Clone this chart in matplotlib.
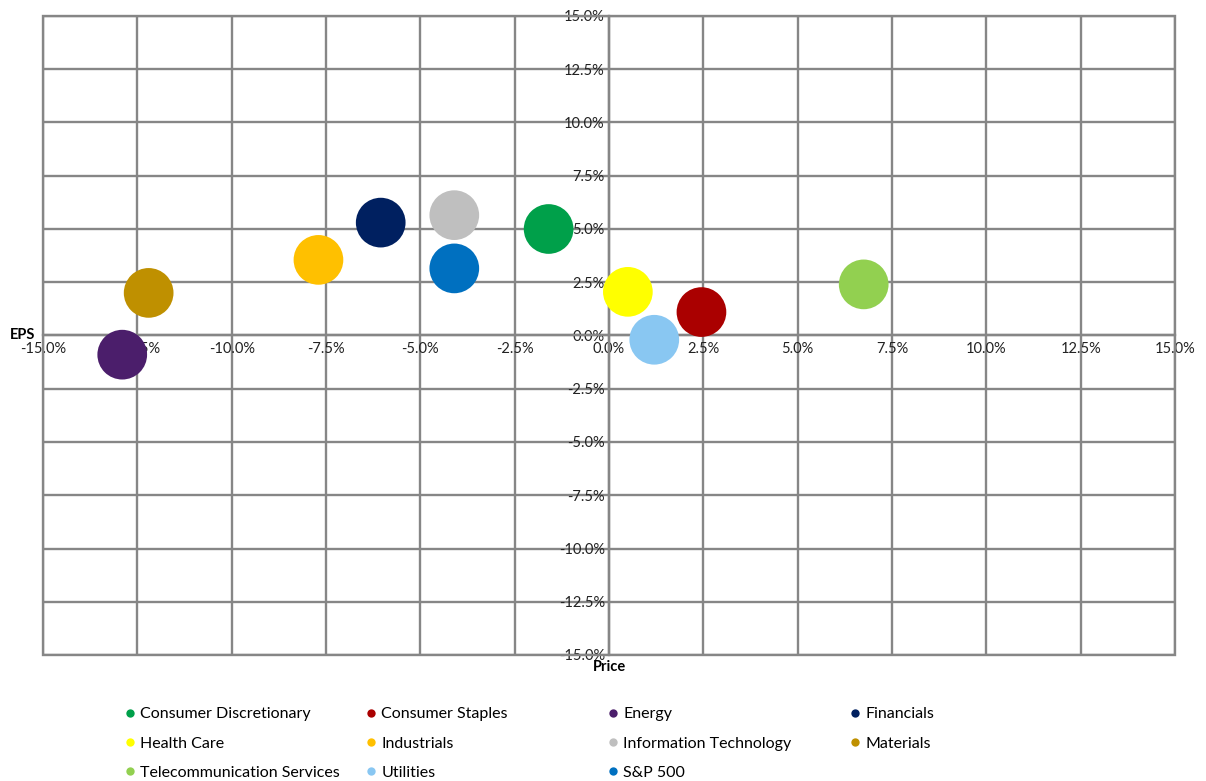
import matplotlib
matplotlib.use("Agg")
import matplotlib.pyplot as plt
from matplotlib.patches import Rectangle
from matplotlib.ticker import MultipleLocator, FuncFormatter
from matplotlib.lines import Line2D

plt.rcParams['font.family'] = ['Lato', 'DejaVu Sans']

# sector data (price change %, EPS change %)
sectors = ["Consumer Discretionary", "Consumer Staples", "Energy", "Financials",
           "Health Care", "Industrials", "Information Technology", "Materials",
           "Telecommunication Services", "Utilities", "S&P 500"]
price = [-1.6, 2.45, -12.9, -6.05, 0.5, -7.7, -4.1, -12.2, 6.75, 1.2, -4.1]
eps = [5.0, 1.1, -0.9, 5.3, 2.05, 3.55, 5.65, 2.0, 2.4, -0.2, 3.15]
colors = ["#00A04A", "#AA0000", "#4B1E6B", "#002060", "#FFFF00", "#FFC000",
          "#BFBFBF", "#BF9000", "#92D050", "#89C7F2", "#0070C0"]

grid_c = "#868686"

fig = plt.figure(figsize=(12.06, 7.81), dpi=100)
ax = fig.add_axes([43/1206, 1 - 655/781, 1132/1206, 639/781])

for x, y, c in zip(price, eps, colors):
    ax.scatter(x, y, s=1280, color=c, edgecolors='none', zorder=3)

ax.set_xlim(-15, 15)
ax.set_ylim(-15, 15)
ax.xaxis.set_major_locator(MultipleLocator(2.5))
ax.yaxis.set_major_locator(MultipleLocator(2.5))
fmt = FuncFormatter(lambda v, p: f"{v:.1f}%")
ax.xaxis.set_major_formatter(fmt)
ax.yaxis.set_major_formatter(fmt)
ax.grid(True, color=grid_c, linewidth=1.7, zorder=0)
ax.set_axisbelow(True)

ax.spines['left'].set_position(('data', 0))
ax.spines['bottom'].set_position(('data', 0))
ax.spines['right'].set_visible(False)
ax.spines['top'].set_visible(False)
for s in ['left', 'bottom']:
    ax.spines[s].set_color(grid_c)
    ax.spines[s].set_linewidth(1.7)
ax.tick_params(length=0, labelsize=10.5, labelcolor="#222222")
ax.tick_params(axis='y', pad=3)
ax.tick_params(axis='x', pad=5)

ax.add_patch(Rectangle((0, 0), 1, 1, transform=ax.transAxes, fill=False,
                       edgecolor=grid_c, linewidth=1.7, clip_on=False, zorder=1))

ax.annotate("EPS", xy=(0, 0.5), xycoords='axes fraction', xytext=(-8, 0),
            textcoords='offset pixels', ha='right', va='center',
            fontsize=10.5, fontweight='bold')
ax.annotate("Price", xy=(0.5, 0), xycoords='axes fraction', xytext=(0, -5),
            textcoords='offset pixels', ha='center', va='top',
            fontsize=10.5, fontweight='bold')

# legend: 4 fixed-width columns, row-major order
col_x = [131, 372, 614, 856]
for ci in range(4):
    idx = list(range(ci, len(sectors), 4))
    handles = [Line2D([], [], marker='o', linestyle='none', markersize=6,
                      markerfacecolor=colors[i], markeredgecolor='none')
               for i in idx]
    fig.legend(handles, [sectors[i] for i in idx], loc='upper left',
               bbox_to_anchor=((col_x[ci] - 6) / 1206, 1 - 707 / 781),
               frameon=False, fontsize=11.5, handlelength=0.6, handletextpad=0.35,
               labelspacing=0.95, borderpad=0, borderaxespad=0)

fig.savefig("out.png", dpi=100)
